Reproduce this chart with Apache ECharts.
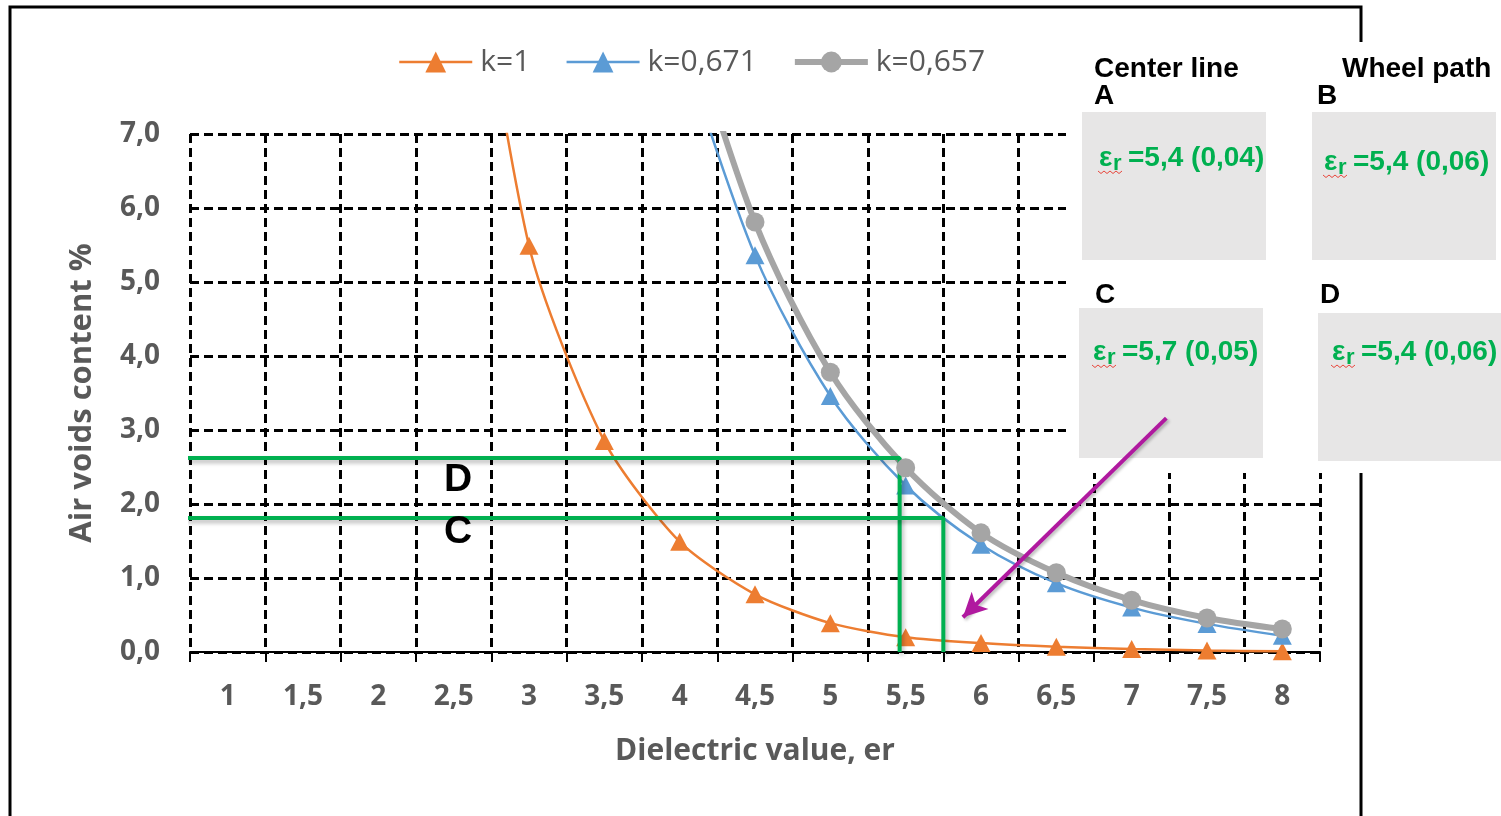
<!DOCTYPE html>
<html>
<head>
<meta charset="utf-8">
<script src="https://cdn.jsdelivr.net/npm/echarts@6/dist/echarts.min.js"></script>
<style>
  html, body { margin: 0; padding: 0; background: #fff; }
  #chart { width: 1501px; height: 816px; }
</style>
</head>
<body>
<div id="chart"></div>
<script>
// Dielectric value categories (x axis tick labels)
const erLabels = ['1', '1,5', '2', '2,5', '3', '3,5', '4', '4,5', '5', '5,5', '6', '6,5', '7', '7,5', '8'];

// Air voids content (%) for each calibration factor k
const voidsK1 = [null, null, null, 11.5, 5.49, 2.85, 1.49, 0.78, 0.39, 0.20, 0.12, 0.07, 0.04, 0.02, 0.01];
const voidsK0671 = [null, null, null, null, null, null, 8.3, 5.36, 3.46, 2.25, 1.45, 0.93, 0.60, 0.38, 0.22];
const voidsK0657 = [null, null, null, null, null, null, 8.9, 5.81, 3.78, 2.49, 1.61, 1.07, 0.70, 0.46, 0.31];

const seriesNames = ['k=1', 'k=0,671', 'k=0,657'];

// Read-off guide lines (er, air voids) for measurement points D and C
const guideD = { er: 5.46, voids: 2.62 };
const guideC = { er: 5.75, voids: 1.81 };
const guideStartEr = 0.72;

// Pointer arrow (er, voids) from box C toward the curves
const arrowFrom = [7.23, 3.16];
const arrowTo = [5.88, 0.47];

// Measurement boxes text
const boxTexts = {
  A: '=5,4 (0,04)',
  B: '=5,4 (0,06)',
  C: '=5,7 (0,05)',
  D: '=5,4 (0,06)'
};

const uiFont = '"Open Sans", "DejaVu Sans", sans-serif';
const boxFont = '"Liberation Sans", Arial, sans-serif';
const axisGrey = '#595959';
const green = '#00b050';
const gridDash = { color: '#000', width: 3, type: [9, 5] };

const chart = echarts.init(document.getElementById('chart'), null, { renderer: 'canvas' });

function squiggle(x0, y0, len) {
  const pts = [];
  for (let i = 0; i <= len; i += 3) {
    pts.push([x0 + i, y0 + ((i / 3) % 2 === 0 ? 0 : 2.5)]);
  }
  return {
    type: 'polyline', z: 48,
    shape: { points: pts },
    style: { stroke: '#e8463c', lineWidth: 1, fill: null }
  };
}

function epsText(x0, yc, rest) {
  return [
    { type: 'text', z: 48, x: x0, y: yc,
      style: { text: 'ε', font: 'bold 28px ' + boxFont, fill: green, textVerticalAlign: 'middle' } },
    { type: 'text', z: 48, x: x0 + 14, y: yc + 6,
      style: { text: 'r', font: 'bold 22px ' + boxFont, fill: green, textVerticalAlign: 'middle' } },
    { type: 'text', z: 48, x: x0 + 29, y: yc,
      style: { text: rest, font: 'bold 28px ' + boxFont, fill: green, textVerticalAlign: 'middle' } },
    squiggle(x0 - 1, yc + 13, 26)
  ];
}

function headText(txt, x, y) {
  return { type: 'text', z: 48, x: x, y: y,
    style: { text: txt, font: 'bold 28px ' + boxFont, fill: '#000', textVerticalAlign: 'middle' } };
}

function box(x, y, w, h) {
  return { type: 'rect', z: 46, shape: { x: x, y: y, width: w, height: h }, style: { fill: '#e7e6e6' } };
}

const graphics = [
  // outer frame
  { type: 'rect', z: 40, shape: { x: 10, y: 7, width: 1351, height: 900 },
    style: { fill: null, stroke: '#000', lineWidth: 3 } },
  // white panel behind the measurement boxes
  { type: 'rect', z: 45, shape: { x: 1066, y: 42, width: 440, height: 431 }, style: { fill: '#fff' } },
  box(1082, 112, 184, 148),
  box(1312, 112, 184, 148),
  box(1079, 308, 184, 150),
  box(1318, 313, 190, 148),
  headText('Center line', 1094, 69),
  headText('A', 1094, 96),
  headText('Wheel path', 1342, 69),
  headText('B', 1317, 96),
  headText('C', 1095, 295),
  headText('D', 1320, 295),
  ...epsText(1099, 158, boxTexts.A),
  ...epsText(1324, 162, boxTexts.B),
  ...epsText(1093, 352, boxTexts.C),
  ...epsText(1332, 352, boxTexts.D),
  // point labels on the plot
  { type: 'text', z: 30, x: 444, y: 480,
    style: { text: 'D', font: 'bold 39px ' + boxFont, fill: '#000', textVerticalAlign: 'middle' } },
  { type: 'text', z: 30, x: 444, y: 532,
    style: { text: 'C', font: 'bold 39px ' + boxFont, fill: '#000', textVerticalAlign: 'middle' } }
];

function guideSeries(g) {
  return {
    type: 'line',
    xAxisIndex: 1,
    data: [[guideStartEr, g.voids], [g.er, g.voids], [g.er, 0]],
    symbol: 'none',
    clip: false,
    silent: true,
    z: 5,
    lineStyle: {
      color: green, width: 4,
      shadowColor: 'rgba(0,0,0,0.28)', shadowBlur: 4, shadowOffsetX: 2, shadowOffsetY: 3
    },
    animation: false
  };
}

const option = {
  animation: false,
  backgroundColor: '#fff',
  grid: { left: 190, right: 181, top: 134, bottom: 164, containLabel: false },
  legend: {
    data: seriesNames,
    left: 393,
    top: 42,
    itemWidth: 73,
    itemHeight: 26,
    itemGap: 35,
    lineStyle: { width: 'inherit' },
    textStyle: { fontFamily: uiFont, fontSize: 30, color: axisGrey, padding: [0, 0, 0, 3] }
  },
  xAxis: [
    {
      type: 'category',
      data: erLabels,
      boundaryGap: true,
      name: 'Dielectric value, er',
      nameLocation: 'middle',
      nameGap: 84,
      nameTextStyle: { fontFamily: uiFont, fontSize: 30, fontWeight: 'bold', color: axisGrey },
      axisLine: { show: true, lineStyle: { color: '#000', width: 2 } },
      axisTick: { show: true, length: 10, lineStyle: { color: '#000', width: 2 } },
      axisLabel: { fontFamily: uiFont, fontSize: 28, fontWeight: 'bold', color: axisGrey, margin: 31 },
      splitLine: { show: true, lineStyle: gridDash }
    },
    {
      type: 'value',
      min: 0.75,
      max: 8.25,
      show: false,
      splitLine: { show: false }
    }
  ],
  yAxis: {
    type: 'value',
    min: 0,
    max: 7,
    interval: 1,
    name: 'Air voids content %',
    nameLocation: 'middle',
    nameGap: 92,
    nameTextStyle: { fontFamily: uiFont, fontSize: 31, fontWeight: 'bold', color: axisGrey },
    axisLine: { show: false },
    axisTick: { show: false },
    axisLabel: {
      fontFamily: uiFont, fontSize: 28, fontWeight: 'bold', color: axisGrey, margin: 30,
      formatter: v => v.toFixed(1).replace('.', ',')
    },
    splitLine: { show: true, lineStyle: gridDash }
  },
  graphic: graphics,
  series: [
    {
      name: seriesNames[0], type: 'line', data: voidsK1, smooth: 0.25,
      symbol: 'triangle', symbolSize: [19, 18],
      itemStyle: { color: '#ed7d31' }, lineStyle: { color: '#ed7d31', width: 2.5 }, z: 3
    },
    {
      name: seriesNames[1], type: 'line', data: voidsK0671, smooth: 0.3,
      symbol: 'triangle', symbolSize: [19, 18],
      itemStyle: { color: '#5b9bd5' }, lineStyle: { color: '#5b9bd5', width: 2.5 }, z: 4
    },
    {
      name: seriesNames[2], type: 'line', data: voidsK0657, smooth: 0.3,
      symbol: 'circle', symbolSize: 19,
      itemStyle: { color: '#a5a5a5' }, lineStyle: { color: '#a5a5a5', width: 6 }, z: 5
    },
    guideSeries(guideD),
    guideSeries(guideC),
    {
      type: 'line',
      xAxisIndex: 1,
      data: [],
      silent: true,
      z: 100,
      markLine: {
        z: 100,
        silent: true,
        symbol: ['none', 'arrow'],
        symbolSize: [18, 24],
        label: { show: false },
        lineStyle: { color: '#b0199f', width: 4, type: 'solid',
          shadowColor: 'rgba(0,0,0,0.25)', shadowBlur: 3, shadowOffsetX: 2, shadowOffsetY: 2 },
        data: [[{ coord: arrowFrom }, { coord: arrowTo }]]
      }
    }
  ]
};

chart.setOption(option);
</script>
</body>
</html>
